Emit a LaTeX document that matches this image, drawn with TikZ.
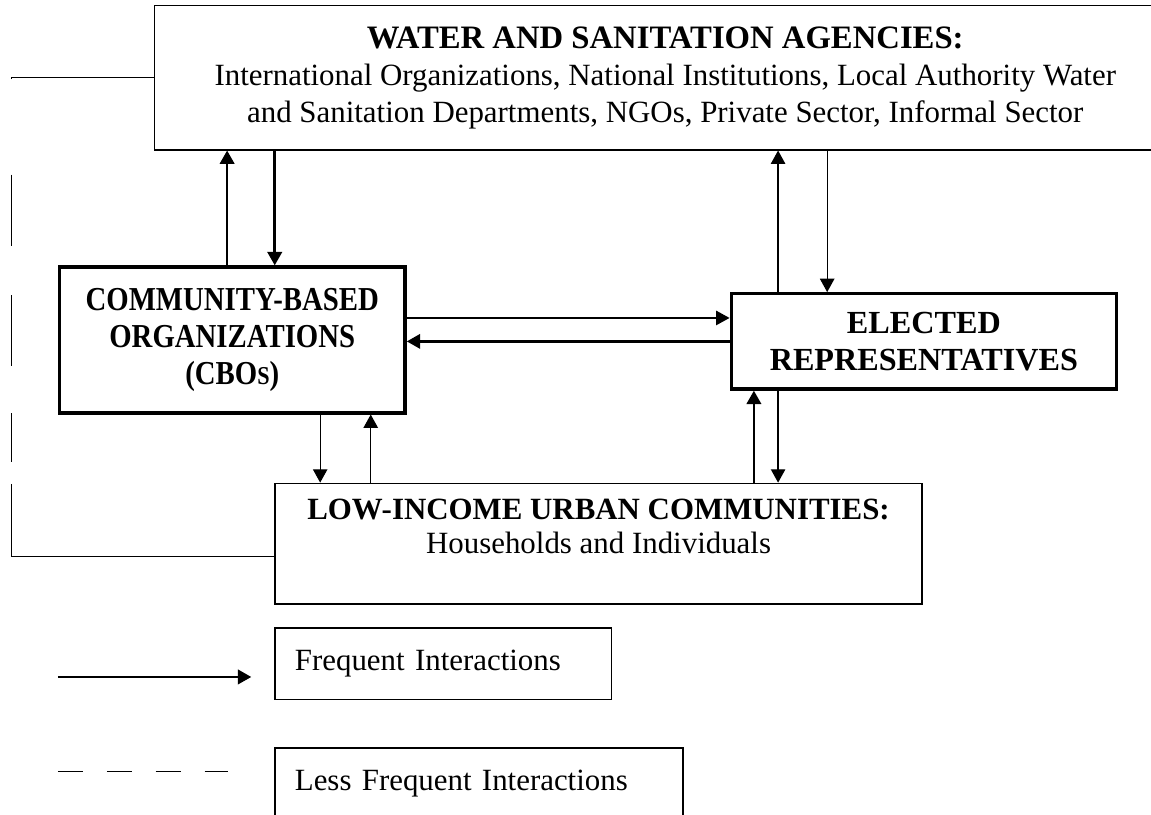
\documentclass[tikz,border=0pt]{standalone}
\usepackage{fontspec}
\setmainfont{Liberation Serif}
\newfontfamily\condserif[FakeStretch=0.86]{Liberation Serif}
\usepackage{tikz}
\usetikzlibrary{arrows.meta,positioning}

\begin{document}
\begin{tikzpicture}[
    box/.style={draw=black, line width=0.55pt, align=center, font=\fontsize{12}{14.3}\selectfont, inner sep=0pt},
    thickbox/.style={draw=black, line width=1.3pt, align=center, font=\fontsize{13}{14.2}\condserif\bfseries, inner sep=0pt},
    legendbox/.style={draw=black, line width=0.55pt, align=left, font=\fontsize{12}{14}\selectfont, minimum height=0.98cm, inner xsep=0.27cm},
    arrow/.style={-{Triangle[width=5.6pt,length=5.2pt]}, line width=0.5pt},
    thickarrow/.style={-{Triangle[width=5.6pt,length=5.2pt]}, line width=1pt},
    rarelink/.style={line width=0.5pt, dash pattern=on 55.1pt off 37.6pt on 27.9pt off 19pt on 27.5pt off 18.2pt on 19pt off 8.5pt on 140pt}
]
    \useasboundingbox (0,0) rectangle (15.71,11.12);

    % Actors
    \node[box, minimum width=13.95cm, minimum height=1.97cm] (wsa) at (9.08,10.06) {{\fontsize{12.7}{14.3}\selectfont\bfseries WATER AND SANITATION AGENCIES:}\\International Organizations, National Institutions, Local Authority Water\\and Sanitation Departments, NGOs, Private Sector, Informal Sector};
    \node[thickbox, minimum width=4.72cm, minimum height=1.99cm] (cbo) at (3.17,6.48) {COMMUNITY-BASED\\ORGANIZATIONS\\(CBO{\fontsize{10}{12}\selectfont S})};
    \node[thickbox, font=\fontsize{12.5}{14.3}\selectfont\bfseries, minimum width=5.26cm, minimum height=1.30cm] (er) at (12.61,6.46) {ELECTED\\REPRESENTATIVES};
    \node[box, line width=0.7pt, minimum width=8.83cm, minimum height=1.64cm, font=\fontsize{12}{13.5}\selectfont] (lic) at (8.17,3.70) {\textbf{LOW-INCOME URBAN COMMUNITIES:}\\Households and Individuals\\\mbox{}};

    % Legend
    \node[legendbox, text width=4.05cm] (legfreq) at (6.05,2.06) {Frequent Interactions};
    \node[legendbox, line width=0.8pt, text width=5.03cm] (legrare) at (6.54,0.42) {Less Frequent Interactions};
    \coordinate (fa) at (0.79,1.88);
    \coordinate (fb) at (3.43,1.88);
    \coordinate (ra) at (0.79,0.59);
    \coordinate (rb) at (3.11,0.59);
    \draw[thickarrow] (fa) -- (fb);
    \draw[line width=0.5pt, dash pattern=on 9.7pt off 9.3pt] (ra) -- (rb);

    % Agencies <-> CBOs
    \draw[thickarrow] (3.10,0 |- cbo.north) -- (3.10,0 |- wsa.south);
    \draw[thickarrow] (3.75,0 |- wsa.south) -- (3.75,0 |- cbo.north);

    % Agencies <-> Representatives
    \draw[arrow] (10.62,0 |- er.north) -- (10.62,0 |- wsa.south);
    \draw[arrow] (11.29,0 |- wsa.south) -- (11.29,0 |- er.north);

    % CBOs <-> Representatives
    \draw[arrow] (cbo.east |- 0,6.78) -- (er.west |- 0,6.78);
    \draw[thickarrow] (er.west |- 0,6.46) -- (cbo.east |- 0,6.46);

    % CBOs <-> Communities
    \draw[arrow] (4.37,0 |- cbo.south) -- (4.37,0 |- lic.north);
    \draw[arrow] (5.06,0 |- lic.north) -- (5.06,0 |- cbo.south);

    % Representatives <-> Communities
    \draw[thickarrow] (10.29,0 |- lic.north) -- (10.29,0 |- er.south);
    \draw[arrow] (10.62,0 |- er.south) -- (10.62,0 |- lic.north);

    % Agencies - Communities (less frequent)
    \coordinate (lbend) at (0.16,6.5);
    \coordinate (lictap) at (lic.west |- 0,3.52);
    \draw[rarelink] (wsa.west) -| (lbend) |- (lictap);

\end{tikzpicture}
\end{document}
